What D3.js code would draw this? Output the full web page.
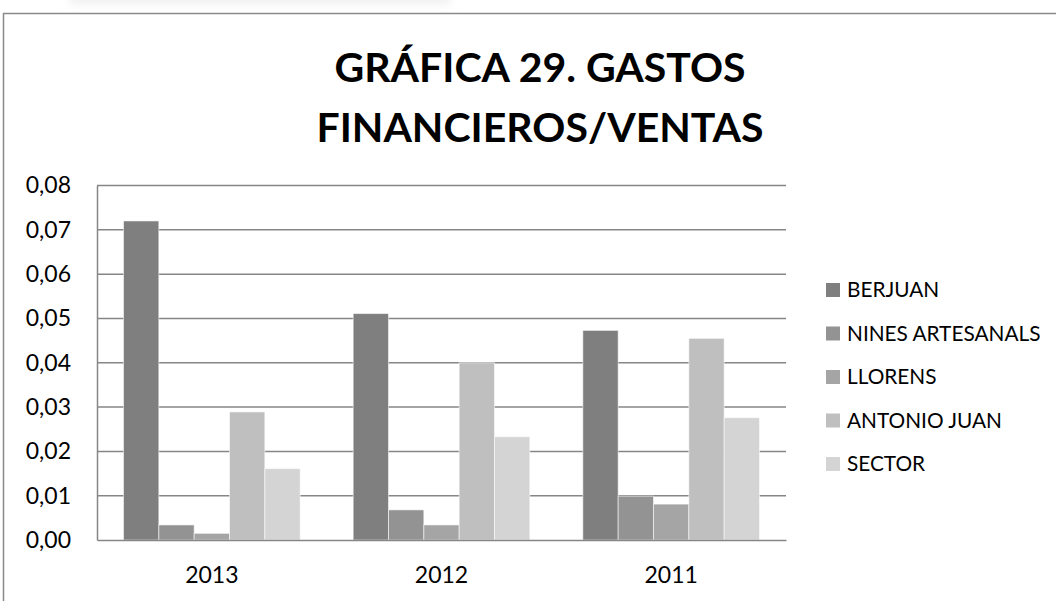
<!DOCTYPE html>
<html>
<head>
<meta charset="utf-8">
<script src="https://cdn.jsdelivr.net/npm/d3@7"></script>
<style>
  body { margin: 0; background: #fff; }
  svg { display: block; font-family: Lato, "Open Sans", sans-serif; }
</style>
</head>
<body>
<div id="chart"></div>
<script>
/**
 * DATA
 * */
const years = ["2013", "2012", "2011"];
const companies = ["BERJUAN", "NINES ARTESANALS", "LLORENS", "ANTONIO JUAN", "SECTOR"];
const berjuan = [0.0720, 0.0511, 0.0473];
const ninesArtesanals = [0.0034, 0.0068, 0.0099];
const llorens = [0.0015, 0.0034, 0.0081];
const antonioJuan = [0.0289, 0.0400, 0.0455];
const sector = [0.0161, 0.0233, 0.0276];
const yTicks = [0, 0.01, 0.02, 0.03, 0.04, 0.05, 0.06, 0.07, 0.08];
const titleLines = ["GRÁFICA 29. GASTOS", "FINANCIEROS/VENTAS"];

const seriesValues = [berjuan, ninesArtesanals, llorens, antonioJuan, sector];
const colors = ["#7f7f7f", "#939393", "#a5a5a5", "#bfbfbf", "#d4d4d4"];

/**
 * CONSTANTS
 * */
const width = 1056,
  height = 601,
  margin = { top: 185.5, bottom: 61, left: 97, right: 270 };

const svg = d3.select("#chart")
  .append("svg")
  .attr("width", width)
  .attr("height", height);

// faint shadow at the very top
const defs = svg.append("defs");
defs.append("filter").attr("id", "blur")
  .attr("x", "-20%").attr("y", "-200%").attr("width", "140%").attr("height", "500%")
  .append("feGaussianBlur").attr("stdDeviation", 4);
svg.append("rect")
  .attr("x", 70).attr("y", -6).attr("width", 380).attr("height", 10)
  .attr("fill", "#efefef")
  .attr("filter", "url(#blur)");

// outer chart border
svg.append("path")
  .attr("d", `M3.5,${height + 2} L3.5,13.5 L${width + 2},13.5`)
  .attr("fill", "none")
  .attr("stroke", "#8a8a8a")
  .attr("stroke-width", 1.5);

// title
svg.append("g")
  .selectAll("text")
  .data(titleLines)
  .join("text")
  .attr("x", 540)
  .attr("y", (d, i) => 82 + i * 60)
  .attr("text-anchor", "middle")
  .attr("font-size", 41)
  .attr("font-weight", 700)
  .attr("fill", "#000")
  .text(d => d);

// scales
const x = d3.scaleBand()
  .domain(years)
  .range([margin.left, width - margin.right])
  .paddingInner(0)
  .paddingOuter(0);

const inner = d3.scaleBand()
  .domain(companies)
  .range([0, x.bandwidth()])
  .paddingOuter(0.75)
  .paddingInner(0);

const y = d3.scaleLinear()
  .domain([0, 0.08])
  .range([height - margin.bottom, margin.top]);

const fmt = d => d3.format(".2f")(d).replace(".", ",");

// gridlines
svg.append("g")
  .selectAll("line")
  .data(yTicks.slice(1))
  .join("line")
  .attr("x1", margin.left)
  .attr("x2", width - margin.right)
  .attr("y1", d => y(d))
  .attr("y2", d => y(d))
  .attr("stroke", "#868686")
  .attr("stroke-width", 1.5);

// y axis
const yAxis = svg.append("g")
  .attr("transform", `translate(${margin.left},0)`)
  .call(d3.axisLeft(y).tickValues(yTicks).tickFormat(fmt).tickSize(0).tickPadding(26));
yAxis.select(".domain").attr("stroke", "#868686").attr("stroke-width", 1.5);
yAxis.selectAll("text")
  .attr("font-size", 23)
  .attr("font-family", "Lato, sans-serif")
  .attr("fill", "#000");

// bars
const groups = svg.append("g")
  .selectAll("g")
  .data(years)
  .join("g")
  .attr("transform", d => `translate(${x(d)},0)`);

groups.selectAll("rect")
  .data((d, i) => companies.map((c, j) => ({ company: c, value: seriesValues[j][i], color: colors[j] })))
  .join("rect")
  .attr("x", d => inner(d.company))
  .attr("width", inner.bandwidth())
  .attr("y", d => y(d.value))
  .attr("height", d => y(0) - y(d.value))
  .attr("fill", d => d.color)
  .attr("stroke", "rgba(255,255,255,0.55)")
  .attr("stroke-width", 1);

// x axis
const xAxis = svg.append("g")
  .attr("transform", `translate(0,${y(0)})`)
  .call(d3.axisBottom(x).tickSize(0).tickPadding(27));
xAxis.select(".domain").attr("stroke", "#868686").attr("stroke-width", 1.5);
xAxis.selectAll("text")
  .attr("font-size", 23)
  .attr("font-family", "Lato, sans-serif")
  .attr("fill", "#000");

// legend
const legendY = d3.scalePoint()
  .domain(companies)
  .range([290, 464]);

const legend = svg.append("g")
  .selectAll("g")
  .data(companies)
  .join("g")
  .attr("transform", d => `translate(826,${legendY(d)})`);

legend.append("rect")
  .attr("x", 0)
  .attr("y", -7)
  .attr("width", 14)
  .attr("height", 14)
  .attr("fill", (d, i) => colors[i]);

legend.append("text")
  .attr("x", 21)
  .attr("dy", "0.35em")
  .attr("font-size", 20.8)
  .attr("fill", "#000")
  .text(d => d);
</script>
</body>
</html>
